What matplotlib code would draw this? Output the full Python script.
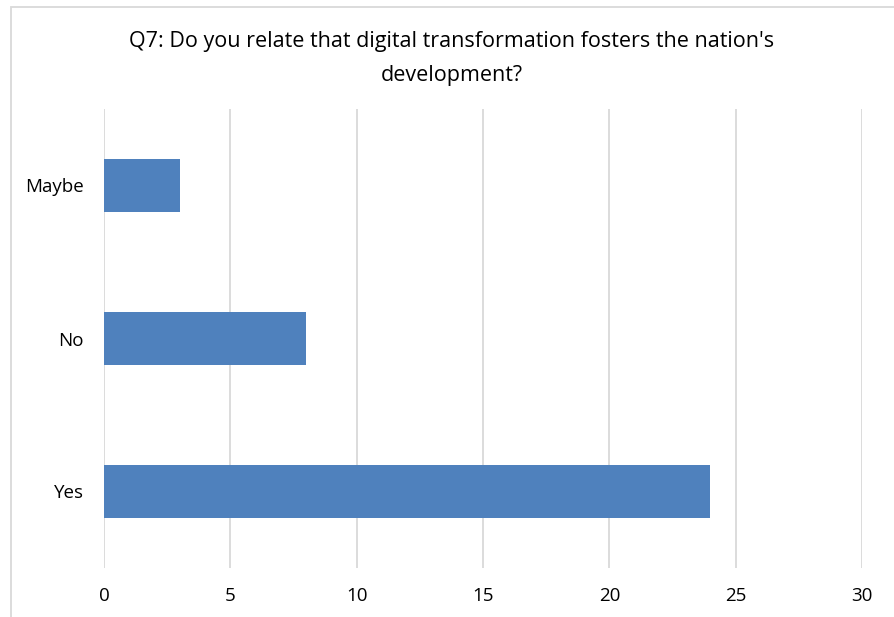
import matplotlib
matplotlib.use("Agg")
import matplotlib.pyplot as plt
from matplotlib.patches import Rectangle

categories = ["Yes", "No", "Maybe"]
counts = [24, 8, 3]
x_ticks = [0, 5, 10, 15, 20, 25, 30]

plt.rcParams['font.family'] = ['Open Sans', 'DejaVu Sans']

W, H = 894, 617
fig = plt.figure(figsize=(W / 100, H / 100), dpi=100)
ax = fig.add_axes([104 / W, 1 - 568 / H, (862 - 104) / W, (568 - 109) / H])

ax.barh(range(len(categories)), counts, height=0.35, color="#4F81BD", zorder=3)
ax.set_xlim(0, 30)
ax.set_ylim(-0.5, len(categories) - 0.5)
ax.set_xticks(x_ticks)
ax.set_xticklabels([str(t) for t in x_ticks], fontsize=13.5)
ax.set_yticks(range(len(categories)))
ax.set_yticklabels(categories, fontsize=13.5)
ax.tick_params(axis="both", length=0, colors="#000000")
ax.tick_params(axis="x", pad=13.5)
ax.tick_params(axis="y", pad=14.5)
ax.grid(axis="x", color="#D9D9D9", linewidth=1.3, zorder=0)
for s in ax.spines.values():
    s.set_visible(False)

# chart frame
fig.patches.append(Rectangle((11 / W, -0.05), 1.1, 1 - 7 / H + 0.05,
                             transform=fig.transFigure, fill=False,
                             edgecolor="#D9D9D9", linewidth=1.3))

fig.text(452 / W, 1 - 42 / H,
         "Q7: Do you relate that digital transformation fosters the nation's",
         ha="center", va="center", fontsize=15.5)
fig.text(452 / W, 1 - 75 / H, "development?", ha="center", va="center", fontsize=15.5)

fig.savefig("out.png", dpi=100)
